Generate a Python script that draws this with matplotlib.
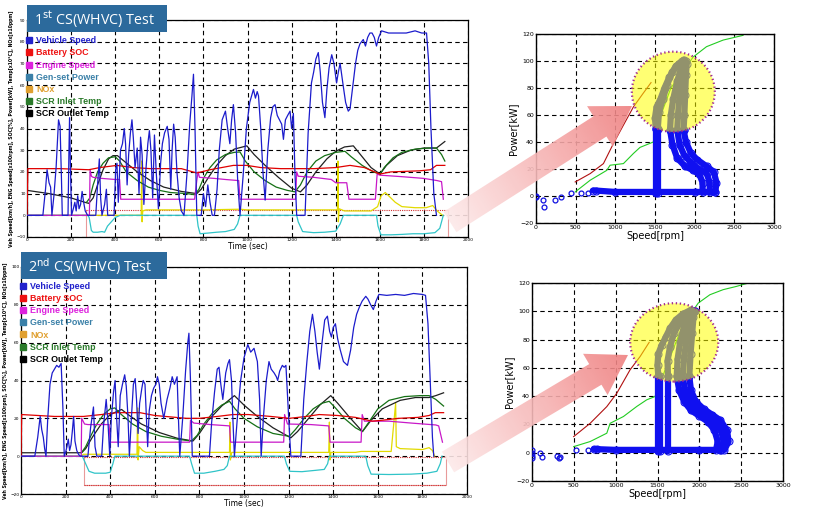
import matplotlib
matplotlib.use("Agg")
import matplotlib.pyplot as plt
import numpy as np
from matplotlib.patches import FancyArrow, Ellipse, Rectangle
from matplotlib.lines import Line2D
from matplotlib.colors import LinearSegmentedColormap

# ---------------- time traces, 1st test (time [s], value) ----------------
speed_1 = [(0,0),(72,0),(84,12),(91,21),(100,15),(107,13),(113,0),(122,9),(132,22),(143,44),(150,41),(156,18),(160,0),(186,0),(190,28),(193,45),(197,22),(202,0),
           (210,3),(217,6),(223,2),(230,9),(236,3),(243,5),(250,11),(257,6),(264,2),(275,0),(312,0),(320,14),(328,26),(334,8),(340,0),(352,5),(360,12),(366,0),(395,0),
           (402,21),(408,24),(414,6),(424,30),(433,33),(441,40),(447,33),(454,14),(461,28),(469,38),(476,44),(482,36),(490,22),(500,31),(508,10),(515,36),(522,28),(530,5),
           (540,22),(548,33),(555,39),(562,30),(570,8),(578,37),(586,20),(596,3),(606,24),(614,33),(624,38),(636,41),(644,35),(652,12),(658,30),(665,42),(672,36),(680,20),(690,8),(700,2),(712,0),
           (726,20),(738,42),(748,55),(755,65),(762,40),(770,0),(790,0),(800,10),(810,4),(820,14),(830,6),(840,0),(850,0),
           (862,12),(872,30),(885,44),(900,48),(910,40),(920,33),(928,44),(936,51),(946,38),(956,15),(966,0),
           (980,18),(995,40),(1010,52),(1027,58),(1036,54),(1044,57),(1050,55),(1060,40),(1070,20),(1080,7),
           (1092,30),(1105,45),(1115,50),(1125,51),(1135,46),(1145,44),(1155,42),(1163,35),(1172,44),(1182,46),(1193,48),(1200,40),(1208,47),(1215,20),(1223,0),(1261,0),
           (1275,38),(1290,61),(1300,66),(1310,72),(1321,75),(1330,66),(1340,52),(1351,45),(1360,58),(1370,68),(1382,74),(1392,70),(1404,61),(1412,66),(1420,70),(1428,64),(1435,59),(1445,52),(1457,48),(1465,49),
           (1478,60),(1490,70),(1500,76),(1510,79),(1525,81),(1535,78),(1545,82),(1555,84),(1565,84),(1575,82),(1585,78),(1595,82),(1608,85),(1640,84),(1680,84),(1720,84),(1760,85),(1790,84),(1812,84),(1822,70),(1832,40),(1845,10),(1857,0)]
soc_1 = [(0,0),(4,21.5),(150,21.5),(280,21),(330,22),(408,23),(480,22),(560,21.5),(700,21.5),(770,19.5),(830,21),(936,23),(997,23),(1060,22),(1150,21.5),
         (1300,21.5),(1400,22),(1465,23),(1530,22),(1600,19),(1650,20),(1780,20.5),(1830,21),(1857,23),(1895,23)]
eng_1 = [(0,0),(283,0),(286,21),(292,18),(300,17.5),(340,17),(400,16.5),(420,16.5),(425,7.4),(760,7.4),(770,16),(776,20),(782,17.5),(850,17),(900,16.5),(960,16),(966,7.4),
         (1218,7.4),(1223,20),(1230,18),(1300,17.5),(1380,16.5),(1400,15),(1450,15),(1460,7.4),(1580,7.4),(1588,19),(1600,18.5),(1700,17.8),(1800,17),(1860,16),(1880,15.5),(1888,7.4)]
gen_1 = [(0,0),(275,0),(282,-1),(292,-7),(300,-7.8),(320,-7.8),(340,-7.5),(352,-7.8),(365,-5),(400,-1),(423,0),(770,0),(776,-5),(785,-8.5),(820,-8.2),(860,-7.8),(900,-7.5),(940,-6.5),(955,-4),(966,0),
         (1223,0),(1230,-3),(1250,-7.5),(1300,-8),(1350,-7.8),(1400,-7.3),(1420,-4),(1435,0),(1585,0),(1592,-5),(1605,-9),(1650,-9),(1700,-8.8),(1750,-8.5),(1800,-8.5),(1850,-8),(1872,-6),(1888,0)]
nox_1 = [(0,0),(518,0),(520,25),(522,-3),(525,2),(540,2.5),(800,2.5),(966,2.8),(1000,2.5),(1408,2.5),(1410,25),(1412,-3),(1416,3),(1440,2),(1560,2),(1590,4),(1606,9),(1625,10.5),
         (1645,8.5),(1670,6),(1700,4),(1760,3.5),(1810,3.5),(1840,4.5),(1860,2),(1885,0)]
scr_in_1 = [(270,6),(285,8),(300,14),(320,20),(345,24),(370,26.5),(400,27),(420,25),(450,20),(500,16),(550,13),(600,11.5),(650,10.5),(725,10),(760,9.5),(780,12),(800,17),(830,22),
            (860,25.5),(900,28),(940,29),(966,29.2),(990,25),(1030,20),(1080,16),(1130,13),(1180,11.5),(1215,10.8),(1240,14),(1270,20),(1310,25),(1350,27.5),(1400,29),(1442,29.5),
            (1470,27),(1520,23),(1570,20),(1601,19),(1620,22),(1660,26.5),(1700,29),(1760,30.5),(1820,31),(1857,31),(1880,28),(1895,25)]
scr_out_1 = [(0,11.5),(100,10),(200,8),(262,6),(280,5.5),(300,8),(320,14),(345,21),(370,26),(390,27.5),(410,27.5),(440,25),(500,20),(560,16),(620,13),(700,11),(770,10),(790,12),
             (820,17),(860,23),(900,27.5),(940,30.5),(997,32),(1030,28),(1080,23),(1140,17.5),(1200,12.5),(1240,10.8),(1270,14),(1310,20),(1360,26),(1400,29.5),(1440,31.5),(1480,32),
             (1520,27),(1560,22),(1601,19),(1630,23),(1680,27.5),(1740,30),(1800,31),(1857,31),(1895,34)]
frame_1 = [(266,2.5),(266,-9.8),(1910,-9.8),(1910,2.5)]
dotted_1 = [(266,2.5),(1910,2.5)]

# ---------------- time traces, 2nd test ----------------
speed_2 = [(0,0),(62,0),(75,10),(86,21),(93,14),(100,10),(106,4),(112,0),(120,20),(130,38),(140,44),(150,46),(160,48),(170,47),(180,49),(188,25),(194,0),
           (200,2),(206,5),(212,9),(218,3),(224,6),(230,13),(236,21),(242,8),(250,3),(258,1),(265,0),(300,0),(312,15),(325,26),(332,5),(340,0),(362,0),
           (370,16),(382,30),(390,18),(398,0),(405,20),(415,34),(422,40),(428,22),(436,5),(445,32),(455,38),(465,43),(472,37),(480,20),(486,0),
           (494,18),(504,38),(512,41),(518,30),(525,12),(532,28),(542,36),(548,40),(556,38),(562,22),(568,5),(575,24),(585,32),(595,36),(605,38),(612,42),(620,38),(628,28),
           (640,20),(655,30),(668,36),(678,42),(688,38),(700,42),(706,20),(712,0),
           (725,20),(738,45),(748,60),(753,65),(760,40),(768,0),(845,0),
           (855,18),(868,34),(880,46),(888,47),(896,38),(905,30),(918,44),(928,49),(935,51),(944,40),(950,20),(957,0),
           (970,20),(985,40),(1000,52),(1017,59),(1030,55),(1045,57),(1060,50),(1070,30),(1077,0),
           (1088,22),(1100,40),(1112,50),(1122,46),(1135,44),(1145,42),(1151,40),(1160,45),(1172,48),(1180,47),(1188,48),(1196,30),(1205,10),(1210,0),(1255,0),
           (1268,30),(1282,50),(1295,66),(1307,75),(1318,66),(1328,55),(1338,46),(1350,60),(1362,72),(1374,74),(1384,66),(1392,63),(1400,68),(1410,70),(1420,62),(1432,56),
           (1446,50),(1464,48),(1478,56),(1492,68),(1505,75),(1518,79),(1530,82),(1546,84.5),(1556,83),(1568,80),(1580,77.5),(1592,82),(1605,85.5),(1640,85),(1680,85.5),
           (1720,85),(1760,86),(1800,85.5),(1814,85),(1825,70),(1835,40),(1845,10),(1851,0)]
soc_2 = [(0,0),(3,22),(150,21),(280,21),(360,22),(430,23),(533,23),(600,21.5),(742,20),(801,20),(880,21),(950,22),(1020,22),(1120,21),(1203,20),(1280,21),(1337,22),
         (1420,21.5),(1500,20.5),(1575,18.5),(1620,19),(1694,20),(1780,20.5),(1830,21.5),(1858,23),(1895,23)]
eng_2 = [(0,0),(270,0),(272,20),(285,17),(300,16.7),(395,16.7),(400,7.4),(756,7.4),(760,19),(775,17.5),(850,16.7),(935,16),(940,7.4),(1178,7.4),(1182,22),(1195,17),
         (1300,16.7),(1380,16),(1386,7.4),(1525,7.4),(1530,22),(1540,18.5),(1650,18.5),(1750,17.5),(1860,16.5),(1873,16),(1890,7.4)]
gen_2 = [(0,0),(275,0),(290,-4),(305,-8),(330,-9),(380,-9),(400,-8.5),(412,-4),(421,0),(756,0),(765,-4),(778,-9),(820,-9),(870,-8),(910,-7),(925,-5),(935,0),
         (1181,0),(1190,-4),(1205,-8),(1260,-8.2),(1320,-7.5),(1360,-7),(1375,-4),(1382,0),(1546,0),(1555,-5),(1570,-9.5),(1650,-9.7),(1750,-9.5),(1820,-9),(1865,-8),(1880,-4),(1888,0)]
nox_2 = [(0,0),(270,0),(280,1),(520,1),(523,25.5),(525,-2),(530,5),(545,3),(560,2),(935,2),(937,18),(939,-2),(945,2),(1380,2),(1383,18),(1385,-2),(1390,2),(1500,2),
         (1525,2.5),(1555,2.5),(1660,2.5),(1680,28),(1683,5),(1700,4),(1800,3.5),(1830,4.5),(1845,3),(1855,0)]
scr_in_2 = [(272,2),(290,5),(310,10),(340,17),(370,22),(400,25),(421,25.5),(450,22),(500,17),(560,13),(630,10.5),(700,9),(764,8),(790,11),(820,17),(860,23),(900,27),
            (935,29),(960,25),(1000,20),(1060,15.5),(1130,12),(1203,10.5),(1230,14),(1270,20),(1310,25),(1350,28),(1382,29),(1410,25.5),(1450,20),(1500,15),(1531,13),
            (1560,18),(1600,25),(1650,29.5),(1720,31.5),(1790,32),(1830,32),(1860,30),(1895,26.5)]
scr_out_2 = [(0,1.8),(272,1.8),(290,4),(320,10),(360,17),(400,22),(451,24.7),(480,22),(540,17),(620,12.5),(700,9.5),(771,8),(800,12),(840,19),(900,26.5),(957,32),
             (1000,27),(1060,21),(1130,15),(1210,9.7),(1240,13),(1290,20),(1340,27),(1389,32),(1420,28),(1470,21),(1531,13),(1570,19),(1620,25),(1700,29.5),(1769,31),
             (1830,31),(1860,32),(1895,33.5)]
frame_2 = [(283,0),(283,-15.5),(1906,-15.5),(1906,0)]
dotted_2 = [(283,-0.3),(1906,-0.3)]

legend_labels = ["Vehicle Speed", "Battery SOC", "Engine Speed", "Gen-set Power", "NOx", "SCR Inlet Temp", "SCR Outlet Temp"]

# ---------------- engine map points (rpm, kW) ----------------
lowpts_1 = [(0,0),(0,-1),(90,-3),(95,-8),(245,-3),(320,-1),(445,2),(570,2.5),(655,2.5)]
band_1 = [
    [(720,4),(760,4),(1000,3),(1500,3),(2000,3),(2260,3)],
    [(1510,2),(1510,50)],
    [(1535,2),(1535,50)],
    [(1690,49),(1720,38),(1780,28),(1880,22),(1980,19),(2060,16),(2100,10),(2100,3)],
    [(1780,49),(1810,38),(1870,30),(1950,25),(2050,20),(2150,17),(2190,10),(2190,3)],
    [(1860,49),(1890,40),(1950,32),(2030,27),(2150,22),(2240,18),(2275,10),(2260,3)],
    [(1510,50),(1500,58),(1520,66),(1570,72),(1620,80),(1680,88),(1760,96),(1840,100)],
    [(1535,50),(1550,62),(1600,72),(1650,82),(1720,92),(1800,98),(1860,101)],
    [(1690,49),(1700,60),(1730,72),(1780,85),(1830,95),(1870,99)],
    [(1780,49),(1790,60),(1810,75),(1840,88),(1870,97),(1890,100)],
    [(1860,49),(1870,60),(1880,75),(1890,90),(1900,98)],
]
green_1 = [(494,3),(683,11.7),(892,19),(934,22.8),(1102,24),(1228,31.5),(1311,36),(1479,40),(1500,48),(1700,80),(1982,103),(2149,110.6),(2359,115.5),(2610,119)]
red_1 = [(494,10.4),(683,16.6),(850,24),(976,38.9),(1102,52.5),(1228,66),(1350,76),(1450,84)]
circle_1 = (1731, 77.2, 1046, 59.4)

lowpts_2 = [(0,-4),(0,-2),(0,0),(0,2),(100,0),(120,-3),(300,-2),(320,-4),(340,-3),(520,2),(670,2)]
band_2 = [
    [(740,2.5),(780,2.5),(1000,2),(1500,2),(2000,2),(2250,2)],
    [(1505,1),(1505,54)],
    [(1530,1),(1530,54)],
    [(1625,1),(1625,54)],
    [(1730,54),(1760,44),(1820,36),(1900,30),(2000,26),(2100,22),(2180,16),(2220,8),(2200,2)],
    [(1800,54),(1830,44),(1890,36),(1980,30),(2080,26),(2180,22),(2260,16),(2290,8),(2260,2)],
    [(1880,54),(1900,44),(1960,36),(2050,31),(2150,27),(2250,23),(2330,16),(2350,8),(2300,2)],
    [(1510,54),(1500,62),(1510,70),(1550,76),(1600,82),(1650,88),(1720,94),(1800,98),(1900,101)],
    [(1625,54),(1620,65),(1650,75),(1700,85),(1780,93),(1860,98),(1920,100)],
    [(1730,54),(1740,66),(1770,78),(1820,90),(1880,97),(1930,100)],
    [(1800,54),(1820,68),(1850,82),(1890,94),(1940,100)],
    [(1880,54),(1895,70),(1915,85),(1930,96),(1950,100)],
]
green_2 = [(498,4.3),(695,7.9),(894,13.8),(934,20.8),(1093,25.6),(1252,32.7),(1371,37.4),(1470,39.7),(1600,60),(1800,90),(1987,105.8),(2126,111.7),(2285,115.3),(2444,117.6),(2583,120)]
red_2 = [(498,11.4),(695,20.8),(894,32.6),(1013,42),(1172,58.6),(1292,68),(1400,78)]
circle_2 = (1700, 78, 1053, 55.4)

line_colors = ["#1c1ccc", "#e00000", "#c818c8", "#30c4c8", "#e2da00", "#157015", "#202020"]
legend_colors = ["#2222cc", "#ee1111", "#dd22dd", "#3a80a8", "#e0a030", "#2a7a2a", "#000000"]


def xy(pairs):
    a = np.array(pairs, dtype=float)
    return a[:, 0], a[:, 1]


def time_panel(ax, traces, frame, dotted, ylim, yticks, leg_top):
    order = [4, 3, 6, 5, 2, 1, 0]  # draw speed last, on top
    for i in order:
        t, v = xy(traces[i])
        ax.plot(t, v, color=line_colors[i], lw=0.9, zorder=3 + (i == 0))
    t, v = xy(frame)
    ax.plot(t, v, color="#e89a9a", lw=0.8, zorder=2)
    t, v = xy(dotted)
    ax.plot(t, v, color="#d03030", lw=0.8, ls=(0, (1, 1)), zorder=2)
    ax.plot([frame[1][0], frame[2][0]], [frame[1][1], frame[2][1]], color="#d03030", lw=0.8, ls=(0, (1, 1)), zorder=2)

    ax.set_xlim(0, 2000)
    ax.set_ylim(*ylim)
    ax.set_xticks(np.arange(0, 2001, 200))
    ax.set_yticks(yticks)
    ax.tick_params(labelsize=3.2, length=1.5, width=0.5, pad=1, direction="in")
    ax.grid(True, color="black", ls=(0, (4, 3)), lw=0.8)
    for s in ax.spines.values():
        s.set_linewidth(0.9)
    ax.set_xlabel("Time (sec)", fontsize=5.5, labelpad=0)
    ax.set_ylabel("Veh Speed[km/h], ENG Speed[x100rpm], SOC[%], Power[kW], Temp[x10\u00b0C], NOx[x10ppm]",
                  fontsize=3.3, fontweight="bold", labelpad=2)

    handles = [Line2D([], [], ls="none", marker="s", ms=3.8, color=c) for c in legend_colors]
    leg = ax.legend(handles, legend_labels, loc="upper left", bbox_to_anchor=(-0.002, leg_top),
                    frameon=False, borderpad=0, borderaxespad=0, handlelength=0.6, handletextpad=0.55,
                    labelspacing=0.36, prop={"family": "Liberation Sans", "weight": "bold", "size": 6.4})
    for txt, c in zip(leg.get_texts(), legend_colors):
        txt.set_color(c)
    leg.set_zorder(6)


def map_panel(ax, lowpts, band, green, red, circle):
    t, v = xy(lowpts)
    ax.plot(t, v, ls="none", marker="o", ms=3.5, mfc="none", mec="#1010e0", mew=0.9, zorder=3)
    for path in band:
        t, v = xy(path)
        ax.plot(t, v, color="#1010f0", lw=4.5, solid_capstyle="round", zorder=3)
        ax.plot(t, v, ls="none", marker="o", ms=5, mfc="none", mec="#1010f0", mew=0.8, zorder=3)
    t, v = xy(green)
    ax.plot(t, v, color="#22cc22", lw=0.8, zorder=2)
    t, v = xy(red)
    ax.plot(t, v, color="#b01010", lw=0.8, zorder=2)
    cx, cy, w, h = circle
    ax.add_patch(Ellipse((cx, cy), w, h, fc="#ffff00", ec="none", alpha=0.55, zorder=4))
    ax.add_patch(Ellipse((cx, cy), w, h, fc="none", ec="#a02c90", lw=1.6, ls=(0, (0.6, 1.2)), zorder=5))
    ax.set_xlim(0, 3000)
    ax.set_ylim(-20, 120)
    ax.set_xticks(np.arange(0, 3001, 500))
    ax.set_yticks(np.arange(-20, 121, 20))
    ax.tick_params(labelsize=4.5, length=2, width=0.6, pad=1.5, direction="in")
    ax.grid(True, color="black", ls=(0, (4, 3)), lw=0.8)
    for s in ax.spines.values():
        s.set_linewidth(1.0)
    ax.set_xlabel("Speed[rpm]", fontsize=7, labelpad=1)
    ax.set_ylabel("Power[kW]", fontsize=7, labelpad=2)


fig = plt.figure(figsize=(8.13, 5.26), dpi=100)
W, H = 813.0, 526.0


def px_axes(x0, y0, x1, y1):
    return fig.add_axes([x0 / W, 1 - y1 / H, (x1 - x0) / W, (y1 - y0) / H])


ax1 = px_axes(27, 20, 468, 237)
time_panel(ax1, [speed_1, soc_1, eng_1, gen_1, nox_1, scr_in_1, scr_out_1], frame_1, dotted_1,
           (-10, 90), np.arange(-10, 91, 10), 0.925)
ax2 = px_axes(21, 267, 467, 494)
time_panel(ax2, [speed_2, soc_2, eng_2, gen_2, nox_2, scr_in_2, scr_out_2], frame_2, dotted_2,
           (-20, 100), np.arange(-20, 101, 20), 0.935)
ax3 = px_axes(536, 34, 774, 223)
map_panel(ax3, lowpts_1, band_1, green_1, red_1, circle_1)
ax4 = px_axes(532, 283, 783, 481)
map_panel(ax4, lowpts_2, band_2, green_2, red_2, circle_2)

# overlay in pixel coordinates: title boxes and arrows
ov = fig.add_axes([0, 0, 1, 1], zorder=20)
ov.set_xlim(0, W)
ov.set_ylim(H, 0)
ov.axis("off")
ov.patch.set_alpha(0)

for (bx, by, bw, bh), num, sup in [((27, 5, 140, 27), "1", "st"), ((21, 252, 146, 27), "2", "nd")]:
    ov.add_patch(Rectangle((bx, by), bw, bh, fc="#2c6a9c", ec="none"))
    ov.text(bx + 7, by + bh / 2 + 1, num + r"$^{\rm " + sup + "}$ CS(WHVC) Test", color="white",
            fontsize=10.3, va="center", ha="left", family="Open Sans")

arrow_cmap = LinearSegmentedColormap.from_list("pinkgrad", ["#fde9e9", "#f7b7b7", "#ef8080"])
for (x0, y0), (x1, y1) in [((450, 222), (632, 106)), ((448, 462), (628, 355))]:
    arr = FancyArrow(x0, y0, x1 - x0, y1 - y0, width=24, head_width=48, head_length=38,
                     length_includes_head=True, fc="none", ec="none")
    ov.add_patch(arr)
    gx, gy = np.meshgrid(np.linspace(x0 - 40, x1 + 40, 120), np.linspace(y1 - 40, y0 + 40, 80))
    d = np.array([x1 - x0, y1 - y0])
    proj = ((gx - x0) * d[0] + (gy - y0) * d[1]) / (d @ d)
    im = ov.imshow(proj, extent=(x0 - 40, x1 + 40, y0 + 40, y1 - 40), origin="upper",
                   cmap=arrow_cmap, vmin=0, vmax=1, aspect="auto", alpha=0.9)
    im.set_clip_path(arr)
ov.set_xlim(0, W)
ov.set_ylim(H, 0)

fig.savefig("out.png", dpi=100)
